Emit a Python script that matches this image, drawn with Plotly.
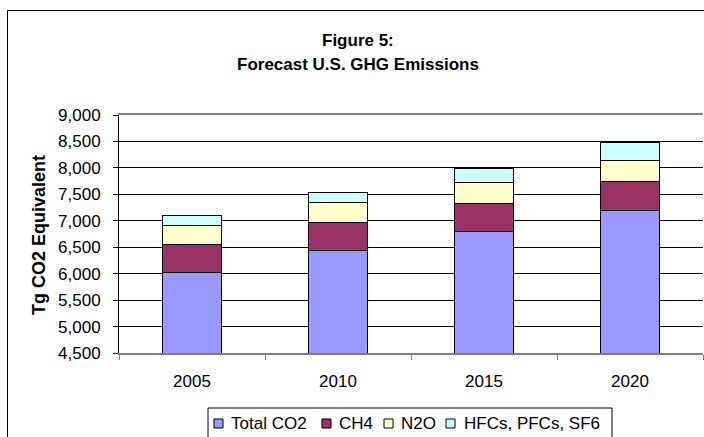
import plotly.graph_objects as go

years = ["2005", "2010", "2015", "2020"]
series_names = ["Total CO2", "CH4", "N2O", "HFCs, PFCs, SF6"]
total_co2 = [6020, 6430, 6790, 7200]
ch4 = [540, 535, 540, 550]
n2o = [360, 380, 385, 385]
hfcs = [180, 195, 280, 350]
series_values = [total_co2, ch4, n2o, hfcs]
colors = ["#9999FF", "#993366", "#FFFFCC", "#CCFFFF"]

W, H = 704, 437
L, R, T, B = 119, 703, 115, 353
FONT = "Liberation Sans, Arial, sans-serif"


def px(x):
    return (x - L) / (R - L)


def py(y):
    return (B - y) / (B - T)


fig = go.Figure()
for name, vals, col in zip(series_names, series_values, colors):
    fig.add_trace(go.Bar(
        x=years, y=vals, name=name, showlegend=False,
        marker=dict(color=col, line=dict(color="#000000", width=1)),
    ))

shapes = []
annotations = []

# outer chart frame
shapes.append(dict(type="rect", xref="paper", yref="paper",
                   x0=px(7.5), x1=px(730), y0=py(470), y1=py(10.5),
                   line=dict(color="#000000", width=1), fillcolor="rgba(0,0,0,0)", layer="below"))

# title
annotations.append(dict(text="<b>Figure 5:</b>", xref="paper", yref="paper",
                        x=px(358), y=py(40), showarrow=False, xanchor="center", yanchor="middle",
                        font=dict(family=FONT, size=17, color="#000000")))
annotations.append(dict(text="<b>Forecast U.S. GHG Emissions</b>", xref="paper", yref="paper",
                        x=px(358), y=py(64), showarrow=False, xanchor="center", yanchor="middle",
                        font=dict(family=FONT, size=17, color="#000000")))

# y-axis title
annotations.append(dict(text="<b>Tg CO2 Equivalent</b>", xref="paper", yref="paper",
                        x=px(39), y=py(235), showarrow=False, textangle=-90,
                        xanchor="center", yanchor="middle",
                        font=dict(family=FONT, size=18, color="#000000")))

# legend (custom, Excel style)
leg_x0, leg_x1, leg_y0 = 208, 612, 408
shapes.append(dict(type="rect", xref="paper", yref="paper",
                   x0=px(leg_x0), x1=px(leg_x1), y0=py(470), y1=py(leg_y0),
                   line=dict(color="#000000", width=1), fillcolor="#FFFFFF"))
swatch_x = [214, 322, 384, 446]
text_x = [229, 337, 399, 462]
cy = 423.5
for name, col, sx, tx in zip(series_names, colors, swatch_x, text_x):
    shapes.append(dict(type="rect", xref="paper", yref="paper",
                       x0=px(sx), x1=px(sx + 9), y0=py(cy + 4.5), y1=py(cy - 4.5),
                       line=dict(color="#000000", width=1), fillcolor=col))
    annotations.append(dict(text=name, xref="paper", yref="paper",
                            x=px(tx), y=py(cy), showarrow=False,
                            xanchor="left", yanchor="middle",
                            font=dict(family=FONT, size=17, color="#000000")))

fig.update_layout(
    width=W, height=H,
    margin=dict(l=L, r=W - R, t=T, b=H - B, pad=0),
    paper_bgcolor="#FFFFFF", plot_bgcolor="#FFFFFF",
    barmode="stack", bargap=0.6,
    font=dict(family=FONT, size=17, color="#000000"),
    shapes=shapes, annotations=annotations,
    xaxis=dict(type="category", showline=True, linecolor="#808080", linewidth=2, mirror=True,
               ticks="outside", ticklen=5, tickcolor="#808080", tickson="boundaries",
               showgrid=False, ticklabelstandoff=12,
               tickfont=dict(family=FONT, size=17, color="#000000")),
    yaxis=dict(range=[4500, 9000], dtick=500, tickformat=",d",
               showline=True, linecolor="#000000", linewidth=1,
               ticks="outside", ticklen=5, tickcolor="#000000",
               showgrid=True, gridcolor="#000000", gridwidth=1, zeroline=False,
               ticklabelstandoff=9,
               tickfont=dict(family=FONT, size=17, color="#000000")),
)

fig.write_html(
    "out.html",
    config={"displayModeBar": False},
    post_script="document.body.style.margin='0';document.body.style.overflow='hidden';",
)
